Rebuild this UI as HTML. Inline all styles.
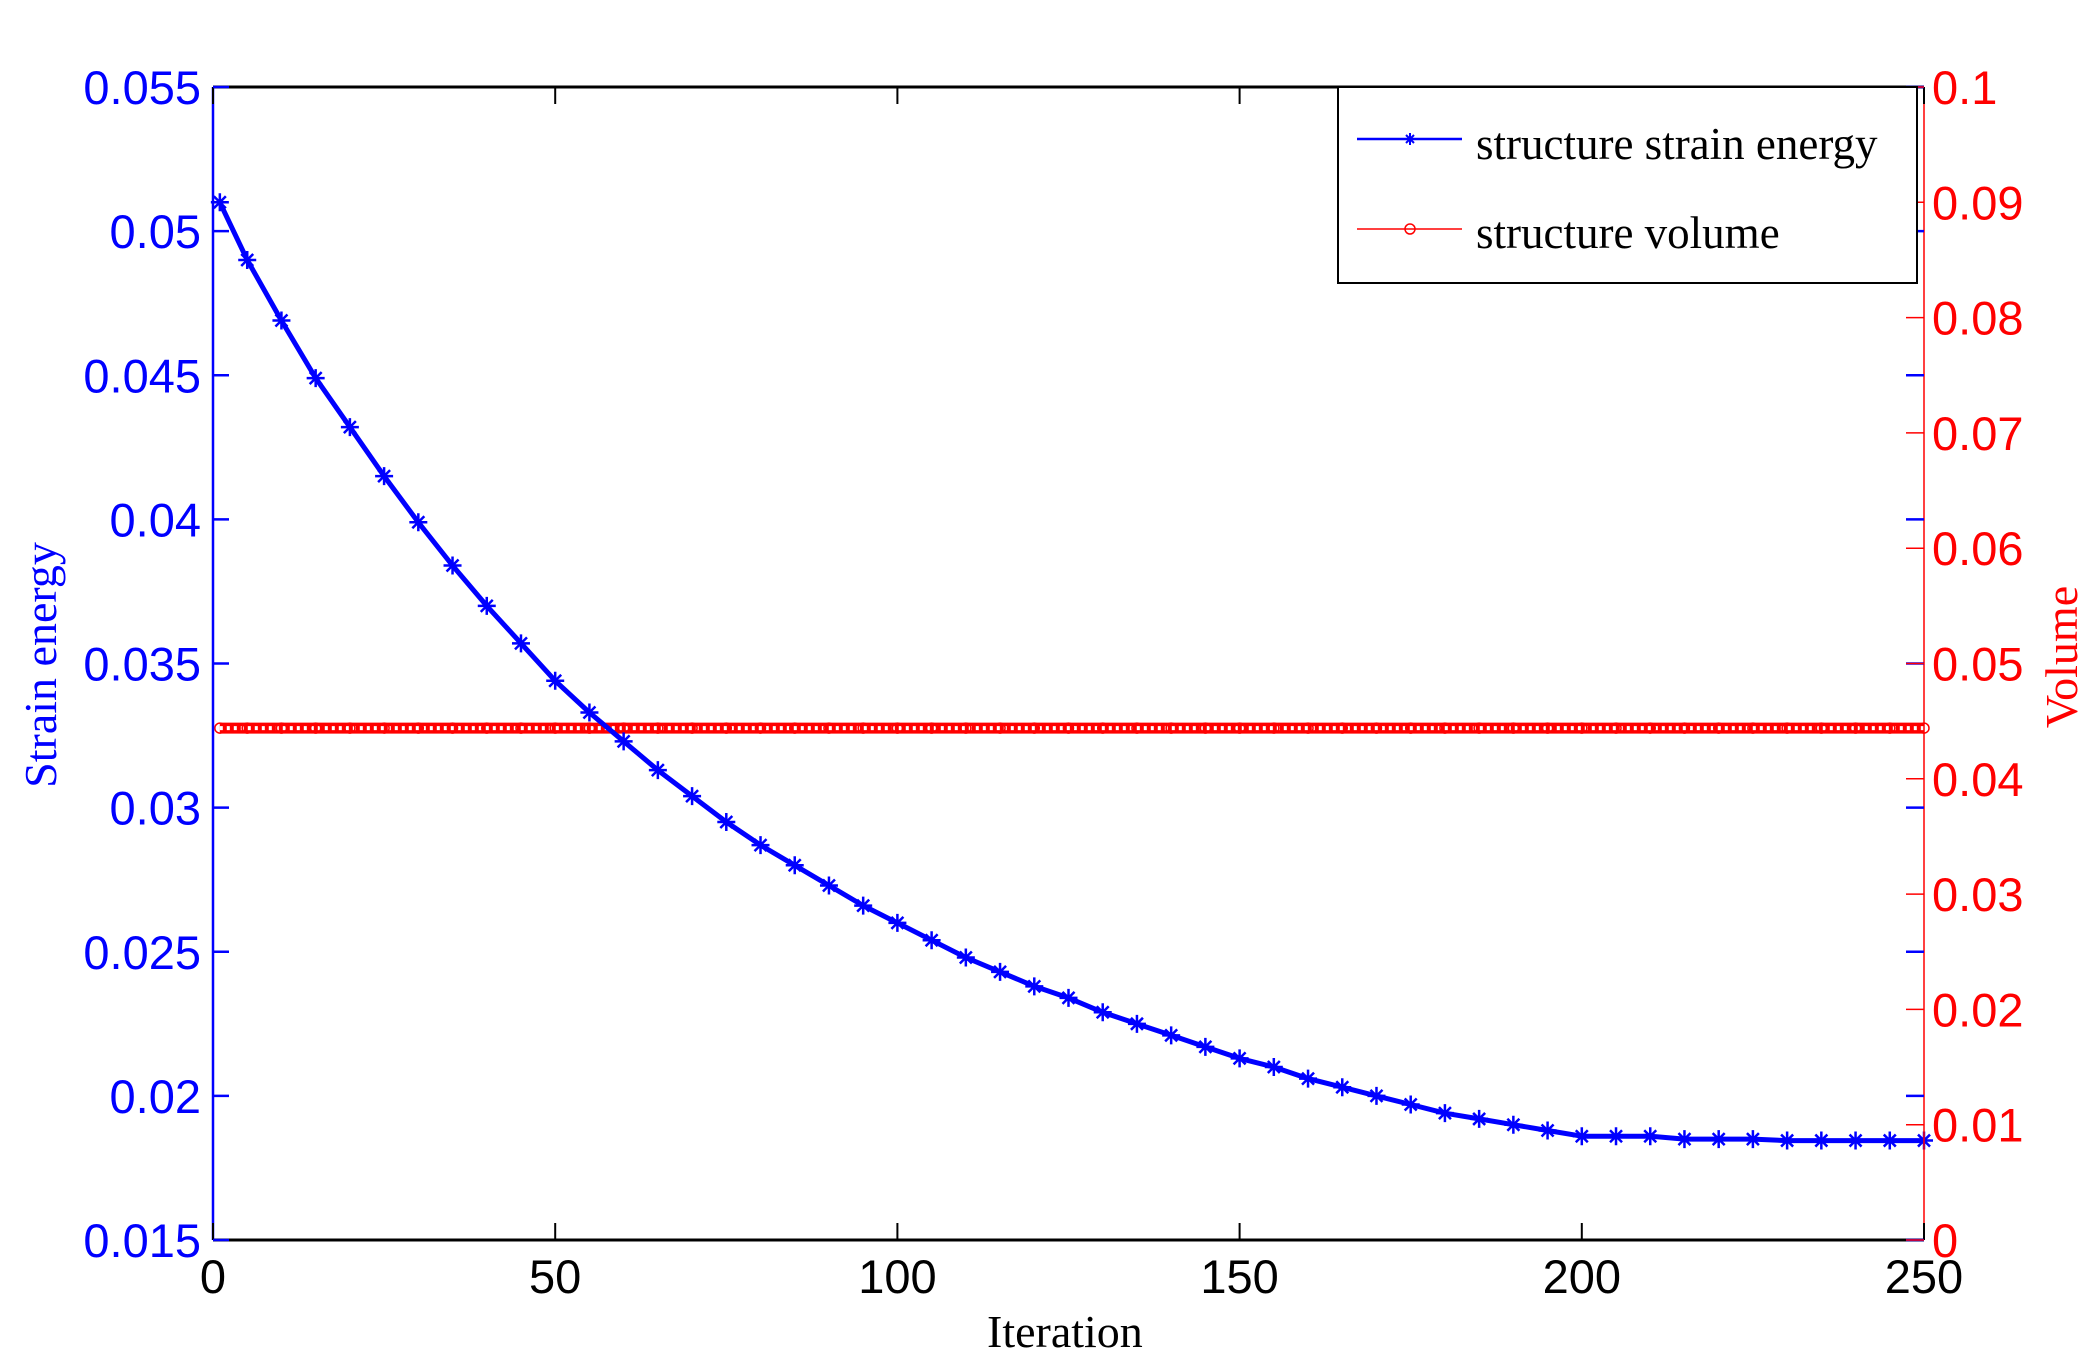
<!DOCTYPE html>
<html>
<head>
<meta charset="utf-8">
<style>
html,body{margin:0;padding:0;background:#fff;}
svg{display:block;}
.sans{font-family:"Liberation Sans",Arial,sans-serif;}
.serif{font-family:"Liberation Serif","Times New Roman",serif;}
</style>
</head>
<body>
<svg id="chart" width="2095" height="1370" viewBox="0 0 2095 1370" xmlns="http://www.w3.org/2000/svg">
  <rect x="0" y="0" width="2095" height="1370" fill="#fff"/>
  <g id="plot"></g>
  <g id="axes"></g>
  <text class="serif" x="987" y="1347" font-size="46" fill="#000">Iteration</text>
  <text class="serif" transform="translate(56,665) rotate(-90)" text-anchor="middle" font-size="46" fill="#0000ff">Strain energy</text>
  <text class="serif" transform="translate(2077,657) rotate(-90)" text-anchor="middle" font-size="46" fill="#ff0000">Volume</text>
  <g>
    <rect x="1338" y="87" width="579" height="196" fill="#fff" stroke="#000" stroke-width="2"/>
    <g>
      <line x1="1357" y1="139" x2="1462" y2="139" stroke="#0000ff" stroke-width="2.5"/>
      <path d="M1410 133 V145 M1404 139 H1416 M1406 135 L1414 143 M1414 135 L1406 143" stroke="#0000ff" stroke-width="2"/>
      <text class="serif" x="1476" y="159" font-size="45" fill="#000">structure strain energy</text>
    </g>
    <g>
      <line x1="1357" y1="229" x2="1462" y2="229" stroke="#ff0000" stroke-width="1.5"/>
      <circle cx="1410" cy="229" r="5" fill="none" stroke="#ff0000" stroke-width="1.5"/>
      <text class="serif" x="1476" y="248" font-size="45" fill="#000">structure volume</text>
    </g>
  </g>
</svg>
<script>
const iterations = [1,5,10,15,20,25,30,35,40,45,50,55,60,65,70,75,80,85,90,95,100,105,110,115,120,125,130,135,140,145,150,155,160,165,170,175,180,185,190,195,200,205,210,215,220,225,230,235,240,245,250];
const strainEnergy = [0.0510,0.0490,0.0469,0.0449,0.0432,0.0415,0.0399,0.0384,0.0370,0.0357,0.0344,0.0333,0.0323,0.0313,0.0304,0.0295,0.0287,0.0280,0.0273,0.0266,0.0260,0.0254,0.0248,0.0243,0.0238,0.0234,0.0229,0.0225,0.0221,0.0217,0.0213,0.0210,0.0206,0.0203,0.0200,0.0197,0.0194,0.0192,0.0190,0.0188,0.0186,0.0186,0.0186,0.0185,0.0185,0.0185,0.01845,0.01845,0.01845,0.01845,0.01845];
const volume = [0.0444,0.0444,0.0444,0.0444,0.0444,0.0444,0.0444,0.0444,0.0444,0.0444,0.0444,0.0444,0.0444,0.0444,0.0444,0.0444,0.0444,0.0444,0.0444,0.0444,0.0444,0.0444,0.0444,0.0444,0.0444,0.0444,0.0444,0.0444,0.0444,0.0444,0.0444,0.0444,0.0444,0.0444,0.0444,0.0444,0.0444,0.0444,0.0444,0.0444,0.0444,0.0444,0.0444,0.0444,0.0444,0.0444,0.0444,0.0444,0.0444,0.0444,0.0444];
const xTicks = [0,50,100,150,200,250];
const xTickLabels = ["0","50","100","150","200","250"];
const leftTicks = [0.015,0.02,0.025,0.03,0.035,0.04,0.045,0.05,0.055];
const leftTickLabels = ["0.015","0.02","0.025","0.03","0.035","0.04","0.045","0.05","0.055"];
const rightTicks = [0,0.01,0.02,0.03,0.04,0.05,0.06,0.07,0.08,0.09,0.1];
const rightTickLabels = ["0","0.01","0.02","0.03","0.04","0.05","0.06","0.07","0.08","0.09","0.1"];

const L=213,R=1924,T=87,B=1240;
const NS="http://www.w3.org/2000/svg";
function xs(v){return L+(v-0)/(250-0)*(R-L);}
function yl(v){return B-(v-0.015)/(0.055-0.015)*(B-T);}
function yr(v){return B-(v-0)/(0.1-0)*(B-T);}
function mk(tag,attrs,parent){const e=document.createElementNS(NS,tag);for(const k in attrs)e.setAttribute(k,attrs[k]);parent.appendChild(e);return e;}

const plot=document.getElementById('plot');
const axes=document.getElementById('axes');

// volume series
let vp=iterations.map((it,i)=>xs(it).toFixed(1)+','+yr(volume[i]).toFixed(1)).join(' ');
const vband=mk('polyline',{points:vp,fill:'none',stroke:'#ff0000','stroke-width':11},plot);


mk('polyline',{points:vp,fill:'none',stroke:'#fff','stroke-width':4,'stroke-dasharray':'3 4'},plot);
iterations.forEach((it,i)=>{
  const c=mk('circle',{cx:xs(it),cy:yr(volume[i]),r:5,fill:'none',stroke:'#ff0000','stroke-width':1.5},plot);
  
  
});

// strain energy series
let sp=iterations.map((it,i)=>xs(it).toFixed(1)+','+yl(strainEnergy[i]).toFixed(1)).join(' ');
const sline=mk('polyline',{points:sp,fill:'none',stroke:'#0000ff','stroke-width':5,'stroke-linejoin':'round'},plot);


iterations.forEach((it,i)=>{
  const x=xs(it),y=yl(strainEnergy[i]);
  const s=mk('path',{d:`M${x} ${y-9}V${y+9}M${x-9} ${y}H${x+9}M${x-6} ${y-6}L${x+6} ${y+6}M${x+6} ${y-6}L${x-6} ${y+6}`,stroke:'#0000ff','stroke-width':2.5},plot);
  
  
});

// axis lines
let a=mk('line',{x1:L,y1:T,x2:R,y2:T,stroke:'#000','stroke-width':3},axes);


a=mk('line',{x1:L,y1:B,x2:R,y2:B,stroke:'#000','stroke-width':3},axes);


a=mk('line',{x1:L,y1:T,x2:L,y2:B,stroke:'#0000ff','stroke-width':2.5},axes);


a=mk('line',{x1:R,y1:T,x2:R,y2:B,stroke:'#ff0000','stroke-width':1.5},axes);



// x ticks
xTicks.forEach((v,i)=>{
  const x=xs(v);
  mk('line',{x1:x,y1:B,x2:x,y2:B-17,stroke:'#000','stroke-width':2},axes);
  mk('line',{x1:x,y1:T,x2:x,y2:T+17,stroke:'#000','stroke-width':2},axes);
  const t=mk('text',{x:x,y:B+53,'text-anchor':'middle','font-size':47,fill:'#000',class:'sans'},axes);
  t.textContent=xTickLabels[i];
  
  
});
// left ticks
leftTicks.forEach((v,i)=>{
  const y=yl(v);
  mk('line',{x1:L,y1:y,x2:L+16,y2:y,stroke:'#0000ff','stroke-width':2.5},axes);
  mk('line',{x1:R,y1:y,x2:R-18,y2:y,stroke:'#0000ff','stroke-width':2.5},axes);
  const t=mk('text',{x:201,y:y+17,'text-anchor':'end','font-size':47,fill:'#0000ff',class:'sans'},axes);
  t.textContent=leftTickLabels[i];
  
  
});
// right ticks
rightTicks.forEach((v,i)=>{
  const y=yr(v);
  mk('line',{x1:R,y1:y,x2:R-18,y2:y,stroke:'#ff0000','stroke-width':1.5},axes);
  const t=mk('text',{x:1932,y:y+17,'text-anchor':'start','font-size':47,fill:'#ff0000',class:'sans'},axes);
  t.textContent=rightTickLabels[i];
  
  
});
</script>
</body>
</html>
